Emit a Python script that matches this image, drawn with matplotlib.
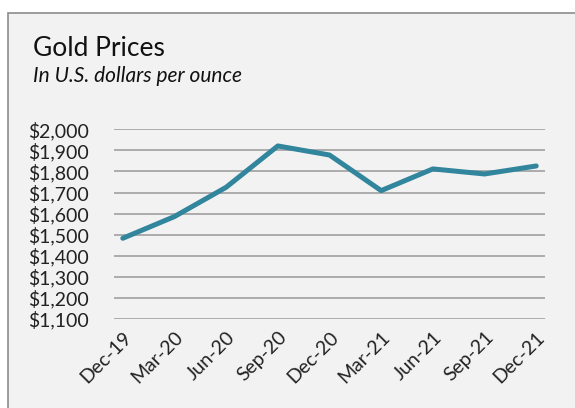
import matplotlib.pyplot as plt
from matplotlib.patches import Rectangle
from matplotlib.ticker import FuncFormatter

# quarterly gold prices
quarters = ['Dec-19', 'Mar-20', 'Jun-20', 'Sep-20', 'Dec-20',
            'Mar-21', 'Jun-21', 'Sep-21', 'Dec-21']
prices = [1483, 1586, 1725, 1921, 1878, 1709, 1812, 1788, 1826]
y_ticks = list(range(1100, 2001, 100))

plt.rcParams['font.family'] = ['Lato', 'DejaVu Sans']

fig = plt.figure(figsize=(5.75, 4.08), dpi=100)
fig.patch.set_facecolor('white')

# chart box (runs off the right and bottom edges)
box = Rectangle((8 / 575, -0.05), 1.2, 1 - 13 / 408 + 0.05,
                transform=fig.transFigure, facecolor='#f2f2f2',
                edgecolor='#8c8c8c', linewidth=1.2, zorder=-5)
fig.patches.append(box)

fig.text(33 / 575, 1 - 56 / 408, 'Gold Prices', fontsize=19, color='#111111')
fig.text(33 / 575, 1 - 82 / 408, 'In U.S. dollars per ounce', fontsize=15,
         style='italic', color='#111111')

ax = fig.add_axes([114 / 575, 1 - 319 / 408, (545 - 114) / 575, (319 - 129.3) / 408])
ax.set_facecolor('none')
ax.set_zorder(2)

x = list(range(len(quarters)))
ax.plot(x, prices, color='#31859c', linewidth=3.6, solid_capstyle='round', zorder=3)

ax.set_ylim(1100, 2000)
ax.set_xlim(-0.17, len(quarters) - 1 + 0.17)
ax.set_yticks(y_ticks)
ax.yaxis.set_major_formatter(FuncFormatter(lambda v, p: f'${v:,.0f}'))
ax.set_xticks(x)
ax.set_xticklabels(quarters, rotation=45, ha='right', rotation_mode='anchor')

ax.grid(axis='y', color='#a6a6a6', linewidth=1.3)
ax.set_axisbelow(True)
for s in ax.spines.values():
    s.set_visible(False)
ax.tick_params(axis='both', length=0, labelsize=14, colors='#222222')
ax.tick_params(axis='y', pad=18)
ax.tick_params(axis='x', pad=7)

fig.savefig('out.png', dpi=100)
